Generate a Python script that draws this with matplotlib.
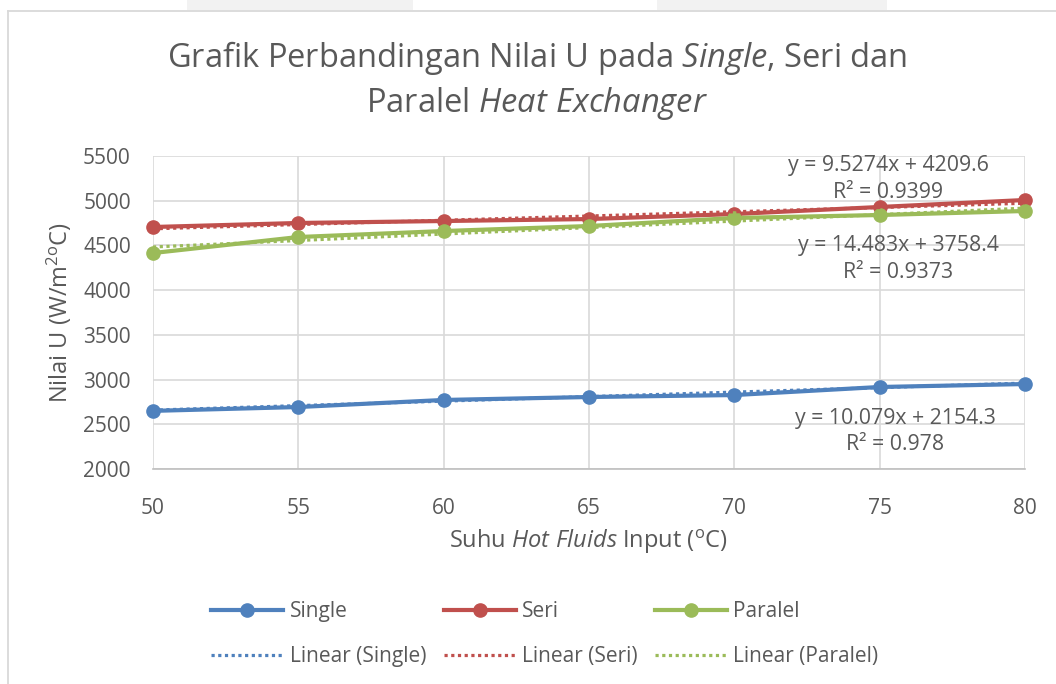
import numpy as np
import matplotlib
matplotlib.use("Agg")
import matplotlib.pyplot as plt
from matplotlib.patches import Rectangle
from matplotlib.lines import Line2D

plt.rcParams['font.family'] = ['Open Sans', 'DejaVu Sans']
plt.rcParams['mathtext.fontset'] = 'custom'
plt.rcParams['mathtext.rm'] = 'Open Sans'
plt.rcParams['mathtext.it'] = 'Open Sans:italic'

# data
suhu = [50, 55, 60, 65, 70, 75, 80]
u_single = [2650, 2693, 2772, 2805, 2827, 2917, 2950]
u_seri = [4706, 4751, 4773, 4795, 4851, 4930, 5008]
u_paralel = [4415, 4594, 4661, 4717, 4807, 4840, 4885]

# trendline coefficients (slope, intercept, R2) as shown on the chart
trend_single = (10.079, 2154.3, 0.978)
trend_seri = (9.5274, 4209.6, 0.9399)
trend_paralel = (14.483, 3758.4, 0.9373)

c_single = '#4F81BD'
c_seri = '#C0504D'
c_paralel = '#9BBB59'
grey = '#595959'
dots = (0, (1, 1.1))

W, H = 1056, 684
fig = plt.figure(figsize=(W / 100, H / 100), dpi=100)

def fx(px):
    return px / W

def fy(py):
    return 1 - py / H

# chart frame + the bits of page above it
for x0, x1 in [(187, 413), (657, 887)]:
    fig.patches.append(Rectangle((fx(x0), fy(10)), fx(x1 - x0), 10 / H, transform=fig.transFigure,
                                 facecolor='#f2f2f2', edgecolor='none'))
fig.add_artist(Line2D([fx(7.5), fx(7.5)], [0, fy(11)], transform=fig.transFigure, color='#d9d9d9', lw=1.3))
fig.add_artist(Line2D([fx(7.5), 1], [fy(11), fy(11)], transform=fig.transFigure, color='#d9d9d9', lw=1.3))

ax = fig.add_axes([fx(153), fy(469), fx(1025 - 153), (469 - 156) / H])

x = np.array(suhu)
for yv, tr, col in [(u_single, trend_single, c_single), (u_seri, trend_seri, c_seri),
                    (u_paralel, trend_paralel, c_paralel)]:
    ax.plot(x, yv, color=col, lw=3, marker='o', ms=9.5, zorder=3, clip_on=False)
    ax.plot(x, tr[0] * x + tr[1], color=col, lw=2.3, ls=dots, zorder=4, clip_on=False)

ax.set_xlim(50, 80)
ax.set_ylim(2000, 5500)
ax.set_xticks(suhu)
ax.set_yticks(range(2000, 5501, 500))
ax.grid(True, color='#d9d9d9', lw=1.2)
ax.set_axisbelow(True)
for s in ax.spines.values():
    s.set_visible(False)
ax.spines['bottom'].set_visible(True)
ax.spines['bottom'].set_color('#bfbfbf')
ax.spines['bottom'].set_linewidth(1.2)
ax.tick_params(length=0, labelsize=15, colors=grey)
ax.tick_params(axis='y', pad=16)
ax.tick_params(axis='x', pad=21)

fig.text(fx(59), fy(313), r'Nilai U (W/m$^{2\mathrm{o}}$C)', rotation=90, ha='center', va='center',
         fontsize=17, color=grey)
fig.text(fx(588), fy(542), r'Suhu $Hot\ Fluids$ Input ($^{\mathrm{o}}$C)', ha='center', va='center',
         fontsize=17, color=grey)

fig.text(fx(537), fy(58), 'Grafik Perbandingan Nilai U pada $Single$, Seri dan',
         ha='center', va='center', fontsize=23.5, color=grey)
fig.text(fx(537), fy(103), 'Paralel $Heat\\ Exchanger$',
         ha='center', va='center', fontsize=23.5, color=grey)

for tr, cx, cy in [(trend_seri, 888, 165), (trend_paralel, 898, 245), (trend_single, 895, 418)]:
    fig.text(fx(cx), fy(cy), 'y = %sx + %s' % (tr[0], tr[1]), ha='center', va='center',
             fontsize=15.3, color=grey)
    fig.text(fx(cx), fy(cy + 27), 'R² = %s' % tr[2], ha='center', va='center',
             fontsize=15.3, color=grey)

handles = [
    Line2D([], [], color=c_single, lw=3, marker='o', ms=9.5),
    Line2D([], [], color=c_single, lw=2.3, ls=dots),
    Line2D([], [], color=c_seri, lw=3, marker='o', ms=9.5),
    Line2D([], [], color=c_seri, lw=2.3, ls=dots),
    Line2D([], [], color=c_paralel, lw=3, marker='o', ms=9.5),
    Line2D([], [], color=c_paralel, lw=2.3, ls=dots),
]
labels = ['Single', 'Linear (Single)', 'Seri', 'Linear (Seri)', 'Paralel', 'Linear (Paralel)']
fig.legend(handles, labels, ncol=3, loc='center', bbox_to_anchor=(fx(545), fy(634)),
           frameon=False, fontsize=15, labelcolor=grey, handlelength=3.45, handletextpad=0.3,
           columnspacing=0.85, labelspacing=1.15)

fig.savefig('out.png', dpi=100)
